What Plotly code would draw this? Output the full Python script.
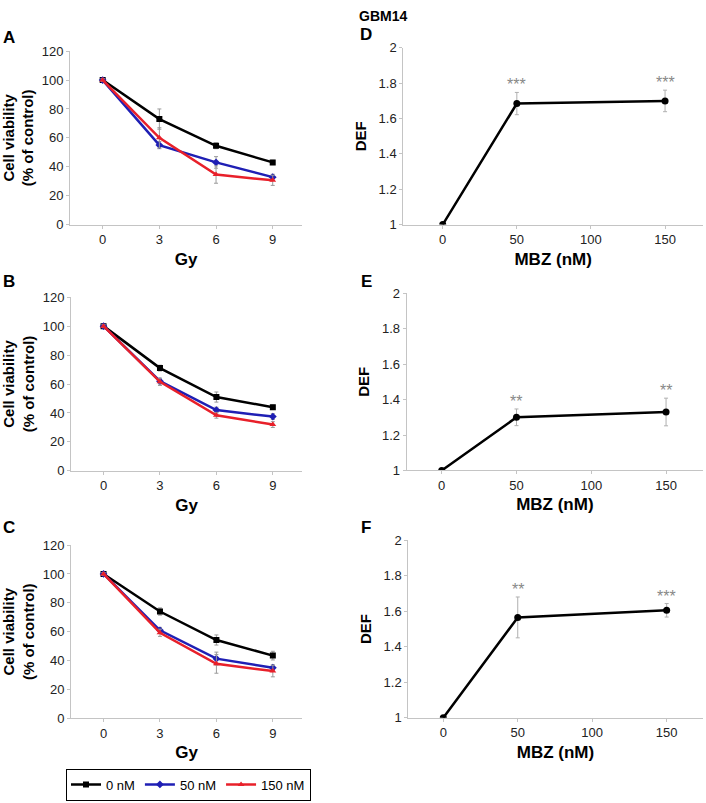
import plotly.graph_objects as go

# ---- data ----
gy = [0, 3, 6, 9]
doses = ["0 nM", "50 nM", "150 nM"]

# cell viability (% of control), panels A-C
via_a = {"0 nM": [100, 73, 54.5, 43], "50 nM": [100, 55, 43, 32.8], "150 nM": [100, 60, 34.6, 30.6]}
err_a = {"0 nM": [0.8, 7, 2, 1.5], "50 nM": [1, 2.5, 4, 2], "150 nM": [1, 7, 6, 3.5]}
via_b = {"0 nM": [100, 71, 51, 44], "50 nM": [100, 62, 42, 37.5], "150 nM": [100, 61.5, 38.4, 32]}
err_b = {"0 nM": [0.8, 2, 3.5, 1.5], "50 nM": [1, 2, 2, 2], "150 nM": [1, 2.5, 2, 2]}
via_c = {"0 nM": [100, 74, 54.3, 43.5], "50 nM": [100, 61, 41.4, 35.1], "150 nM": [100, 59.3, 37.8, 32.8]}
err_c = {"0 nM": [0.8, 2.5, 3.5, 3], "50 nM": [1, 2, 4.5, 2], "150 nM": [1, 2.5, 6.5, 4]}

# dose enhancement factor, panels D-F
mbz = [0, 50, 150]
def_d = [1, 1.685, 1.70]
dev_d = [0, 0.063, 0.061]
stars_d = ["", "***", "***"]
def_e = [1, 1.30, 1.33]
dev_e = [0, 0.047, 0.078]
stars_e = ["", "**", "**"]
def_f = [1, 1.565, 1.605]
dev_f = [0, 0.115, 0.038]
stars_f = ["", "**", "***"]

colors = {"0 nM": "black", "50 nM": "#1f1fb4", "150 nM": "#e8202a"}
symbols = {"0 nM": "square", "50 nM": "diamond", "150 nM": "triangle-up"}

W, H = 706, 803
FONT = "Liberation Sans, Arial, sans-serif"
AXIS_GRAY = "#c4c4c4"
ERR_GRAY = "#9a9a9a"

fig = go.Figure()


def dom_x(a, b):
    return [a / W, b / W]


def dom_y(top, bottom):
    return [1 - bottom / H, 1 - top / H]


# pixel boxes of each plot area (left, right, top, bottom)
boxes = {
    1: (70, 302, 45, 221.7),
    2: (71, 302, 295.7, 472.7),
    3: (71, 302, 548.3, 725),
    4: (403.3, 703, 41.7, 221.7),
    5: (406.7, 703, 291.7, 472.3),
    6: (408.3, 702.7, 543.3, 724.3),
}

# ---- viability panels ----
for i, (vals, errs) in enumerate([(via_a, err_a), (via_b, err_b), (via_c, err_c)], start=1):
    for d in doses:
        fig.add_trace(go.Scatter(
            x=gy, y=vals[d], mode="lines+markers", name=d,
            xaxis="x" if i == 1 else f"x{i}", yaxis="y" if i == 1 else f"y{i}",
            line=dict(color=colors[d], width=2.5),
            marker=dict(symbol=symbols[d], size=6, color=colors[d]),
            error_y=dict(type="data", array=errs[d], color=ERR_GRAY, thickness=1, width=2),
            legendgroup=d, showlegend=(i == 3),
        ))

# ---- DEF panels ----
for i, (vals, errs, st) in zip([4, 5, 6], [(def_d, dev_d, stars_d), (def_e, dev_e, stars_e), (def_f, dev_f, stars_f)]):
    fig.add_trace(go.Scatter(
        x=mbz, y=vals, mode="lines+markers", showlegend=False,
        xaxis=f"x{i}", yaxis=f"y{i}",
        line=dict(color="black", width=2.5),
        marker=dict(symbol="circle", size=7, color="black"),
        error_y=dict(type="data", array=errs, color="#b0b0b0", thickness=1, width=2),
    ))
    for xv, yv, ev, s in zip(mbz, vals, errs, st):
        if s:
            fig.add_annotation(x=xv, y=yv + ev, xref=f"x{i}", yref=f"y{i}", text=s,
                               showarrow=False, yanchor="bottom", yshift=-3,
                               font=dict(family=FONT, size=16, color="#888888"))

axis_common = dict(showline=True, linecolor=AXIS_GRAY, linewidth=1, showgrid=False,
                   zeroline=False, ticks="outside", tickcolor=AXIS_GRAY, ticklen=3,
                   tickfont=dict(family=FONT, size=13, color="#222222"))
xtitle_font = dict(family=FONT, size=17, color="black", weight="bold")
ytitle_font = dict(family=FONT, size=15, color="black", weight="bold")

layout = {}
for i, (l, r, t, b) in boxes.items():
    xa = "xaxis" if i == 1 else f"xaxis{i}"
    ya = "yaxis" if i == 1 else f"yaxis{i}"
    anchor_x = "y" if i == 1 else f"y{i}"
    anchor_y = "x" if i == 1 else f"x{i}"
    if i <= 3:
        layout[xa] = dict(axis_common, domain=dom_x(l, r), anchor=anchor_x,
                          range=[-1.73, 10.55], tickvals=gy,
                          title=dict(text="Gy", font=xtitle_font, standoff=6))
        layout[ya] = dict(axis_common, domain=dom_y(t, b), anchor=anchor_y,
                          range=[0, 120], dtick=20,
                          title=dict(text="Cell viability<br>(% of control)", font=ytitle_font, standoff=4))
    else:
        xr = {4: [-26.6, 175.6], 5: [-23.4, 174.7], 6: [-23.5, 174.2]}[i]
        layout[xa] = dict(axis_common, domain=dom_x(l, r), anchor=anchor_x,
                          range=xr, tickvals=[0, 50, 100, 150],
                          title=dict(text="MBZ (nM)", font=xtitle_font, standoff=6))
        layout[ya] = dict(axis_common, domain=dom_y(t, b), anchor=anchor_y,
                          range=[1, 2], tickvals=[1, 1.2, 1.4, 1.6, 1.8, 2],
                          ticktext=["1", "1.2", "1.4", "1.6", "1.8", "2"],
                          title=dict(text="DEF", font=ytitle_font, standoff=8))

fig.update_layout(**layout)

# panel letters and header
letters = [("A", 9, 31), ("B", 9, 280), ("C", 9, 530), ("D", 366, 28), ("E", 366, 280), ("F", 366, 530)]
for txt, px, py in letters:
    fig.add_annotation(x=px / W, y=1 - py / H, xref="paper", yref="paper", text=txt,
                       showarrow=False, xanchor="center", yanchor="middle",
                       font=dict(family=FONT, size=17, color="black", weight="bold"))
fig.add_annotation(x=357 / W, y=1 - 9 / H, xref="paper", yref="paper", text="GBM14",
                   showarrow=False, xanchor="left", yanchor="middle",
                   font=dict(family=FONT, size=14, color="black", weight="bold"))

fig.update_layout(
    width=W, height=H,
    margin=dict(l=0, r=0, t=0, b=0),
    paper_bgcolor="white", plot_bgcolor="white",
    font=dict(family=FONT),
    legend=dict(orientation="h", x=188.5 / W, y=1 - 776 / H, xanchor="center", yanchor="top",
                bordercolor="black", borderwidth=1, bgcolor="white",
                font=dict(family=FONT, size=13, color="black"),
                itemwidth=30, tracegroupgap=0),
)

# drop the default page margin so the figure sits at the window's corner
fig.write_html("out.html", config={"displayModeBar": False},
               post_script="document.body.style.margin='0';")
